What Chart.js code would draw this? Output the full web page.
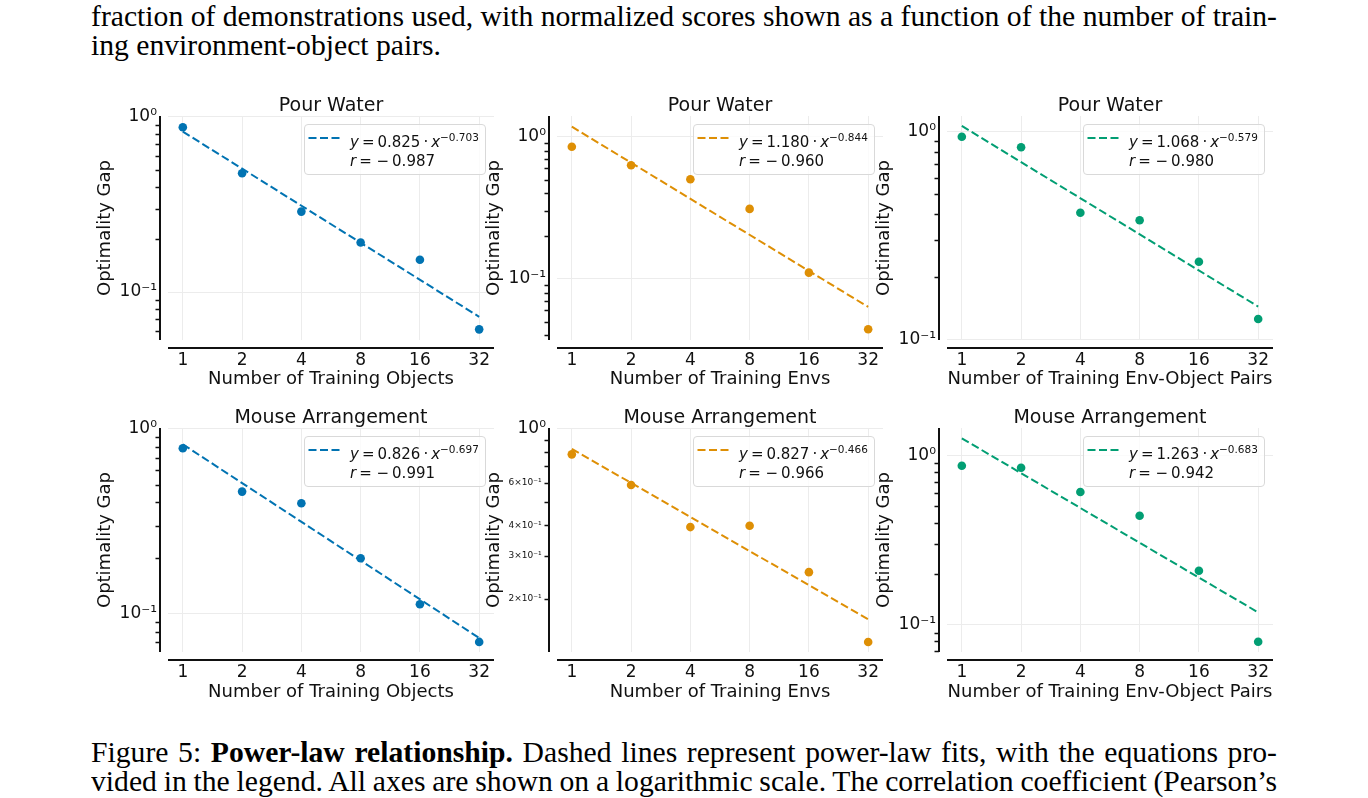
<!DOCTYPE html>
<html>
<head>
<meta charset="utf-8">
<script src="https://cdn.jsdelivr.net/npm/chart.js@4.4.1/dist/chart.umd.min.js"></script>
<style>
  body { margin: 0; background: #fff; width: 1368px; height: 798px; position: relative; overflow: hidden; }
  .txt { position: absolute; left: 91px; font-family: "Liberation Serif", serif; font-size: 29px; line-height: 29px; white-space: nowrap; color: #000; transform-origin: 0 0; }
  canvas { position: absolute; }
  .leg { position: absolute; width: 182px; height: 51px; box-sizing: border-box; border: 1px solid #d9d9d9; border-radius: 4px;
         background: rgba(255,255,255,0.8); font-family: "DejaVu Sans"; font-size: 15px; color: #111; }
  .leg svg { position: absolute; left: 3px; top: 11px; }
  .leg .ll { position: absolute; left: 45px; line-height: 19.5px; white-space: nowrap; }
  .leg sup { font-size: 10.5px; vertical-align: 6px; line-height: 0; }
</style>
</head>
<body>
<div class="txt" style="top:2px" data-w="1186">fraction of demonstrations used, with normalized scores shown as a function of the number of train-</div>
<div class="txt" style="top:30.5px" data-w="350">ing environment-object pairs.</div>
<div class="txt" style="top:737.5px" data-w="1186">Figure 5: <b>Power-law relationship.</b> Dashed lines represent power-law fits, with the equations pro-</div>
<div class="txt" style="top:766.5px" data-w="1186">vided in the legend. All axes are shown on a logarithmic scale. The correlation coefficient (Pearson’s</div>

<script>
// x positions (number of training objects / envs / pairs)
const xValues = [1, 2, 4, 8, 16, 32];
const xTickLabels = ["1", "2", "4", "8", "16", "32"];

// optimality gap
const pourObjects = [0.873, 0.477, 0.288, 0.192, 0.153, 0.0612];
const pourEnvs = [0.853, 0.631, 0.503, 0.311, 0.1106, 0.0442];
const pourPairs = [0.948, 0.843, 0.408, 0.375, 0.2368, 0.1254];
const mouseObjects = [0.786, 0.458, 0.396, 0.1995, 0.1124, 0.0703];
const mouseEnvs = [0.785, 0.587, 0.394, 0.399, 0.257, 0.1326];
const mousePairs = [0.870, 0.847, 0.609, 0.441, 0.2088, 0.0795];

// power-law fits from the legends
const fitCoef = [0.825, 1.180, 1.068, 0.826, 0.827, 1.263];
const fitExp = [-0.703, -0.844, -0.579, -0.697, -0.466, -0.683];
const fitR = [-0.987, -0.960, -0.980, -0.991, -0.966, -0.942];
const fitAt32 = [0.0722, 0.0634, 0.1439, 0.0738, 0.1645, 0.1184]; // fit value at x = 32

const panelTitles = ["Pour Water", "Pour Water", "Pour Water", "Mouse Arrangement", "Mouse Arrangement", "Mouse Arrangement"];
const xTitles = ["Number of Training Objects", "Number of Training Envs", "Number of Training Env-Object Pairs"];

// axis limits
const yMin = [0.0532, 0.0371, 0.0993, 0.0620, 0.1206, 0.0691];
const yMax = [1.013, 1.403, 1.193, 1.0125, 1.0076, 1.454];
const yLabeledMinor = [[], [], [], [], [2, 3, 4, 6], []];
const xMin = Math.pow(2, -0.25), xMax = Math.pow(2, 5.25);

const series = [pourObjects, pourEnvs, pourPairs, mouseObjects, mouseEnvs, mousePairs];
const colors = ["#0173b2", "#de8f05", "#029e73"];

const axLeft = [168, 557, 947], axTop = [116, 428];
const axW = 326, axH = 224, padL = 100, padT = 40, padB = 60, padR = 30;
const spineOff = 8;
const ink = "#111";

const supMap = { "0": "⁰", "1": "¹", "2": "²", "3": "³", "4": "⁴", "5": "⁵", "6": "⁶", "7": "⁷", "8": "⁸", "9": "⁹", "-": "⁻" };
function sup(s) { return String(s).split("").map(c => supMap[c] || c).join(""); }
function decomp(v) {
  const e = Math.floor(Math.log10(v) + 1e-9);
  const k = Math.round(v / Math.pow(10, e));
  return { e, k };
}
function fmt(v) { return v.toFixed(3).replace("-", "−"); }

const spinePlugin = {
  id: "spines",
  afterDraw(chart) {
    const { ctx, chartArea: a, scales } = chart;
    ctx.save();
    ctx.strokeStyle = ink;
    ctx.lineWidth = 2;
    ctx.beginPath();
    ctx.moveTo(a.left - spineOff, a.top);
    ctx.lineTo(a.left - spineOff, a.bottom);
    ctx.moveTo(a.left, a.bottom + spineOff);
    ctx.lineTo(a.right, a.bottom + spineOff);
    ctx.stroke();
    // minor ticks on the y axis
    ctx.lineWidth = 1.3;
    ctx.beginPath();
    scales.y.ticks.forEach((t) => {
      if (decomp(t.value).k === 1) return;
      const py = Math.round(scales.y.getPixelForValue(t.value)) + 0.5;
      ctx.moveTo(a.left - spineOff - 4.5, py);
      ctx.lineTo(a.left - spineOff, py);
    });
    ctx.stroke();
    ctx.restore();
  },
};

for (let i = 0; i < 6; i++) {
  const col = i % 3, row = Math.floor(i / 3);
  const color = colors[col];
  const canvas = document.createElement("canvas");
  canvas.width = padL + axW + padR;
  canvas.height = padT + axH + padB;
  canvas.style.left = (axLeft[col] - padL) + "px";
  canvas.style.top = (axTop[row] - padT) + "px";
  document.body.appendChild(canvas);

  const points = xValues.map((x, j) => ({ x: x, y: series[i][j] }));
  const fitLine = [{ x: xValues[0], y: fitCoef[i] }, { x: xValues[xValues.length - 1], y: fitAt32[i] }];

  new Chart(canvas, {
    type: "scatter",
    data: {
      datasets: [
        { type: "line", data: fitLine, borderColor: color, borderDash: [8, 3.5], borderWidth: 2, pointRadius: 0, fill: false, order: 0 },
        { data: points, backgroundColor: color, borderWidth: 0, pointRadius: 4.3, order: 1 },
      ],
    },
    options: {
      responsive: false,
      maintainAspectRatio: false,
      animation: false,
      events: [],
      layout: { padding: { left: 0, right: padR, top: 0, bottom: 0 }, autoPadding: false },
      plugins: {
        legend: { display: false },
        tooltip: { enabled: false },
        title: {
          display: true,
          text: panelTitles[i],
          fullSize: false,
          color: ink,
          font: { family: "DejaVu Sans", size: 19, weight: "normal", lineHeight: 1 },
          padding: { top: 21 - row * 0.5, bottom: row * 0.5 },
        },
      },
      scales: {
        x: {
          type: "logarithmic",
          min: xMin,
          max: xMax,
          border: { display: false },
          grid: { color: "#ececec", lineWidth: 1, drawTicks: false },
          ticks: {
            autoSkip: false, maxRotation: 0, padding: 10.5, color: ink,
            font: { family: "DejaVu Sans", size: 17 },
            callback: (v, idx) => xTickLabels[idx],
          },
          afterBuildTicks: (s) => { s.ticks = xValues.map((v) => ({ value: v })); },
          afterFit: (s) => { s.height = padB; s.paddingLeft = 0; s.paddingRight = 0; },
          title: {
            display: true, text: xTitles[col], color: ink,
            font: { family: "DejaVu Sans", size: 18, lineHeight: 1.2 },
            padding: { top: 0, bottom: 9.5 - row },
          },
        },
        y: {
          type: "logarithmic",
          min: yMin[i],
          max: yMax[i],
          border: { display: false },
          grid: {
            drawTicks: false, lineWidth: 1,
            color: (ctx) => (ctx.tick && decomp(ctx.tick.value).k === 1 ? "#ececec" : "rgba(0,0,0,0)"),
          },
          ticks: {
            autoSkip: false, padding: 11, color: ink,
            font: (ctx) => ({ family: "DejaVu Sans", size: ctx.tick && decomp(ctx.tick.value).k !== 1 ? 9 : 17 }),
            callback: (v) => {
              const d = decomp(v);
              if (d.k === 1) return "10" + sup(d.e);
              if (yLabeledMinor[i].includes(d.k)) return d.k + "×10" + sup(d.e) + "\u2002";
              return "";
            },
          },
          afterBuildTicks: (s) => {
            const list = [];
            for (let e = Math.floor(Math.log10(yMin[i])); e <= Math.ceil(Math.log10(yMax[i])); e++) {
              for (let k = 1; k <= 9; k++) {
                const v = Number((k * Math.pow(10, e)).toPrecision(6));
                if (v >= yMin[i] * 0.9999 && v <= yMax[i] * 1.0001) list.push({ value: v });
              }
            }
            s.ticks = list;
          },
          afterFit: (s) => { s.width = padL; s.paddingTop = 0; s.paddingBottom = 0; },
          title: {
            display: true, text: "Optimality Gap", color: ink,
            font: { family: "DejaVu Sans", size: 18, lineHeight: 1.2 },
            padding: { top: 26.5, bottom: 0 },
          },
        },
      },
    },
    plugins: [spinePlugin],
  });
}

// legends drawn on top of the charts
for (let i = 0; i < 6; i++) {
  const col = i % 3, row = Math.floor(i / 3);
  const leg = document.createElement("div");
  leg.className = "leg";
  leg.style.left = (axLeft[col] + axW - 8 - 182) + "px";
  leg.style.top = (axTop[row] + 8) + "px";
  leg.innerHTML =
    `<svg width="32" height="4"><line x1="0.5" y1="2" x2="31.5" y2="2" stroke="${colors[col]}" stroke-width="2" stroke-dasharray="8 3.5"/></svg>` +
    `<div class="ll" style="top:7.5px"><i>y</i>\u2009=\u2009${fitCoef[i].toFixed(3)}\u2009·\u2009<i>x</i><sup>${fmt(fitExp[i])}</sup></div>` +
    `<div class="ll" style="top:26.5px"><i>r</i>\u2009=\u00a0−\u20090${fmt(Math.abs(fitR[i])).slice(1)}</div>`;
  document.body.appendChild(leg);
}

// fit the paper text lines to their measured widths:
// one common horizontal scale from the first line, then per-line word spacing
const lines = Array.from(document.querySelectorAll(".txt"));
const nat0 = lines[0].getBoundingClientRect().width;
const sx = (+lines[0].dataset.w) / nat0;
lines.forEach((el) => {
  const natural = el.getBoundingClientRect().width;
  const spaces = (el.textContent.match(/ /g) || []).length;
  const need = (+el.dataset.w) / sx;
  el.style.wordSpacing = ((need - natural) / spaces) + "px";
  el.style.transform = "scaleX(" + sx + ")";
});
</script>
</body>
</html>
